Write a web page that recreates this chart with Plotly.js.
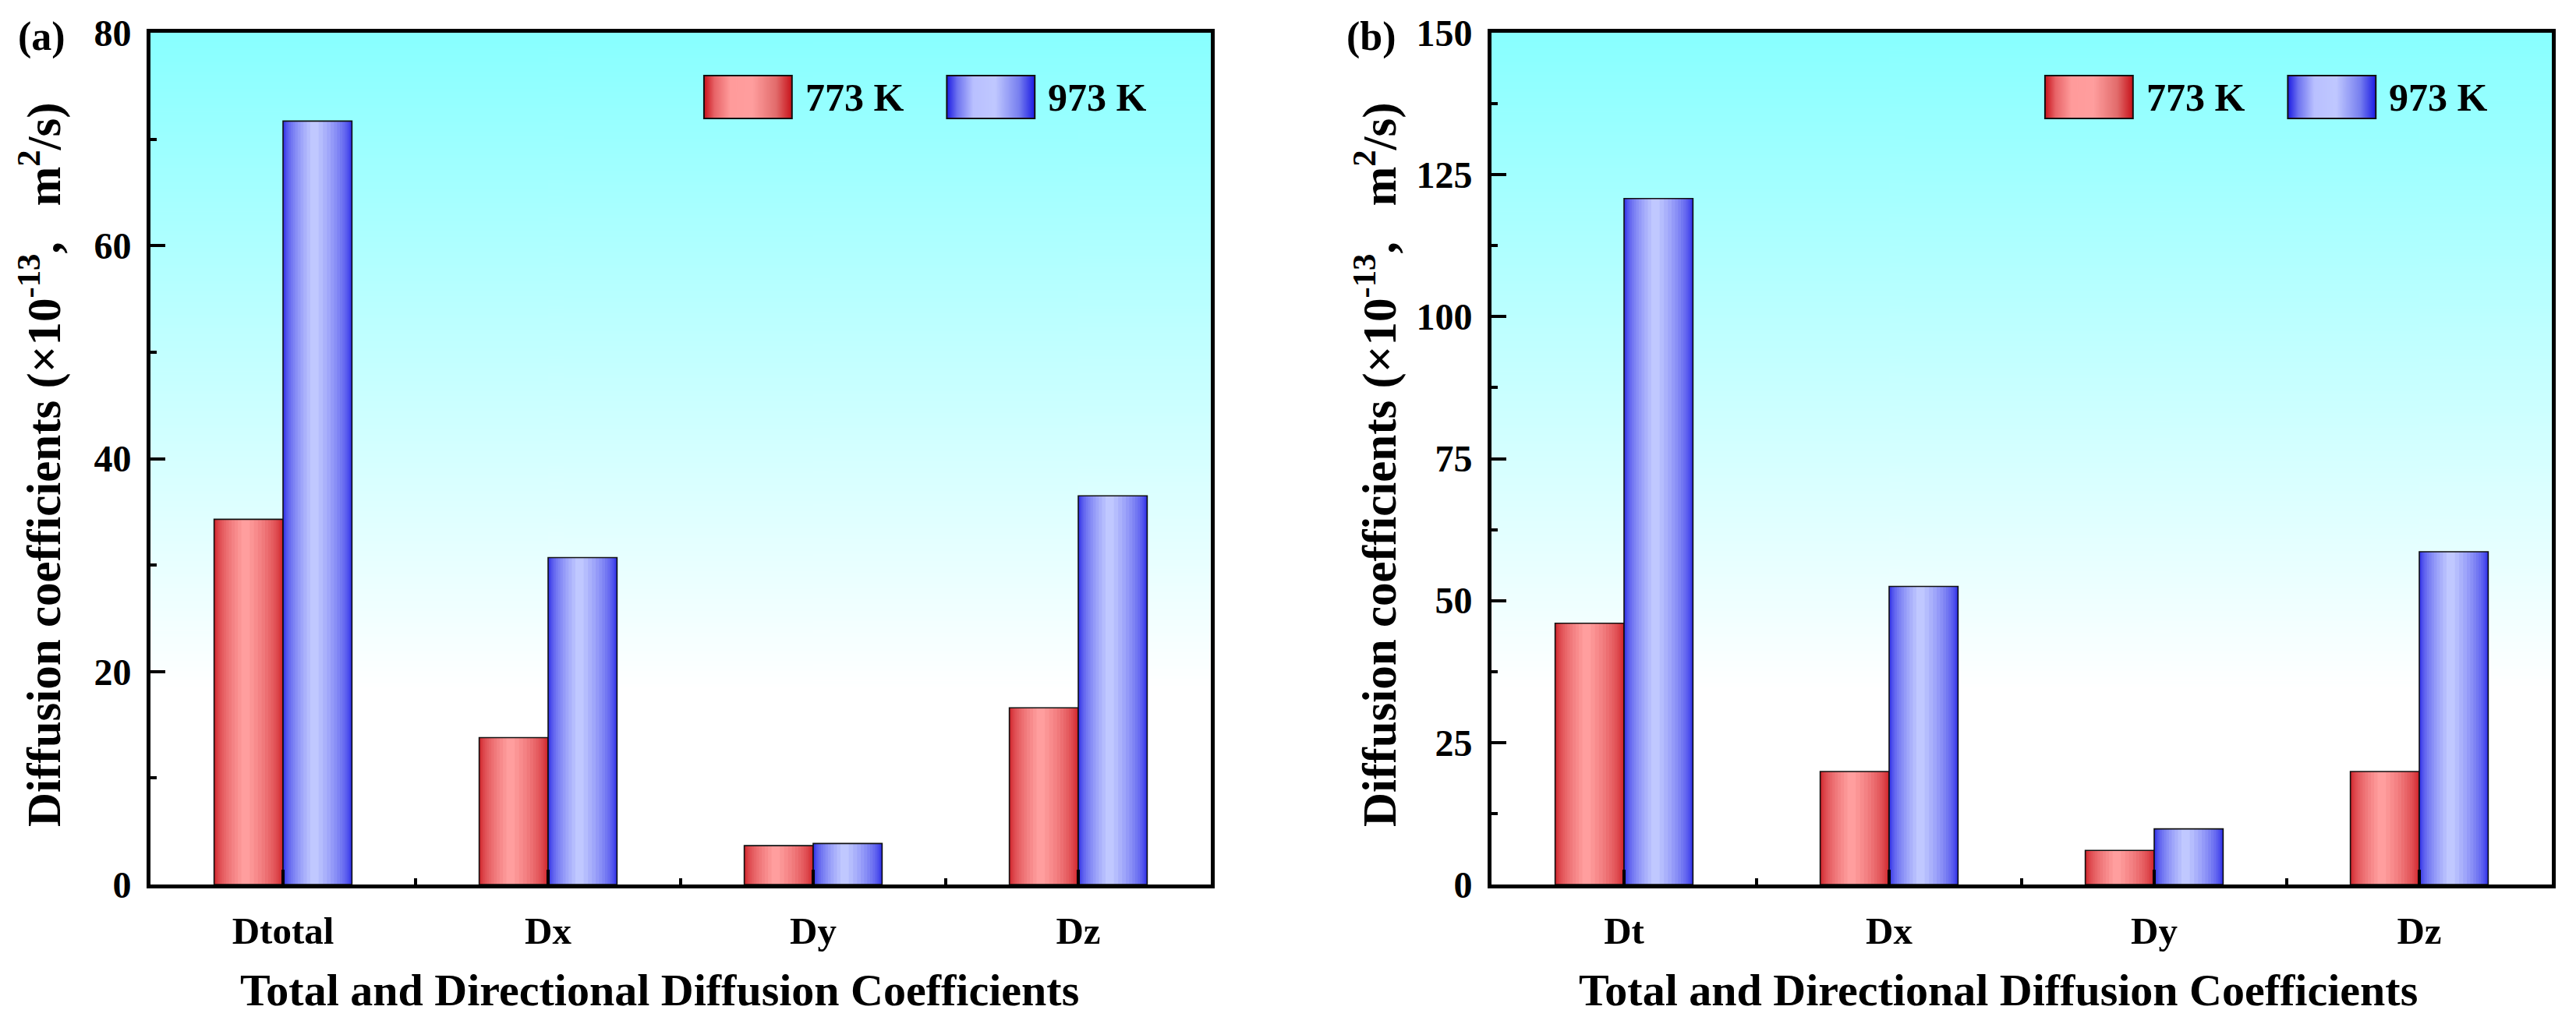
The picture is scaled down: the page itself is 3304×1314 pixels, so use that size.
<!DOCTYPE html>
<html lang="en">
<head>
<meta charset="utf-8">
<title>Diffusion coefficients</title>
<script src="https://cdn.plot.ly/plotly-3.0.1.min.js" charset="utf-8"></script>
<style>
  body{margin:0;background:#fff}
  #plot{width:3304px;height:1314px}
</style>
</head>
<body>
<div id="plot"></div>
<script>
// ---- data ----
const categoriesA = ['Dtotal', 'Dx', 'Dy', 'Dz'];
const categoriesB = ['Dt', 'Dx', 'Dy', 'Dz'];
const seriesNames = ['773 K', '973 K'];
const a773 = [34.3, 13.8, 3.65, 16.6];
const a973 = [71.7, 30.7, 3.85, 36.5];
const b773 = [46.0, 19.9, 6.0, 19.9];
const b973 = [120.8, 52.5, 9.8, 58.6];
const yRangeA = [0, 80];
const yRangeB = [0, 150];

const FONT = 'Liberation Serif, Times New Roman, serif';
const W = 3304, H = 1314;
const PLOT_TOP = 42, PLOT_BOT = 1135;   // pixel rows of the frame
const BAR_W = 0.26;   // width of one bar in category units
const LAYERS = 16;    // steps used for the cylinder shading
const PEAK = 0.45;    // where the highlight sits across a bar

const redShade = {edge: [200, 18, 26], mid: [255, 158, 158]};
const blueShade = {edge: [28, 28, 228], mid: [192, 200, 255]};

// paper coords run over the plot area only, so convert page pixels
const py = px => (PLOT_BOT - px) / (PLOT_BOT - PLOT_TOP);
const pxX = px => px / W;

// build one series as several overlaid bars, narrowing and lightening toward the highlight
function shadedBars(xa, ya, vals, offset, shade) {
  const idx = vals.map((v, i) => i);
  let out = [];
  for (let t = 0; t < LAYERS; t++) {
    let k = Math.pow(t / LAYERS, 2);
    let l = PEAK * k, r = 1 - (1 - PEAK) * k;
    let f = t / (LAYERS - 1);
    let c = shade.edge.map((e, i) => Math.round(e + (shade.mid[i] - e) * f));
    out.push({
      type: 'bar', x: idx, y: vals, xaxis: xa, yaxis: ya,
      offset: offset + l * BAR_W, width: (r - l) * BAR_W,
      marker: {color: 'rgb(' + c.join(',') + ')', line: {width: 0}},
      hoverinfo: 'skip', showlegend: false
    });
  }
  out.push({
    type: 'bar', x: idx, y: vals, xaxis: xa, yaxis: ya,
    offset: offset, width: BAR_W,
    marker: {color: 'rgba(0,0,0,0)', line: {color: '#111', width: 1.6}},
    hoverinfo: 'skip', showlegend: false
  });
  return out;
}

function gradientURL(w, h, stops, horizontal) {
  const cv = document.createElement('canvas');
  cv.width = w; cv.height = h;
  const ctx = cv.getContext('2d');
  const g = horizontal ? ctx.createLinearGradient(0, 0, w, 0) : ctx.createLinearGradient(0, 0, 0, h);
  stops.forEach(s => g.addColorStop(s[0], s[1]));
  ctx.fillStyle = g;
  ctx.fillRect(0, 0, w, h);
  return cv.toDataURL();
}

const bgURL = gradientURL(4, 512, [[0, 'rgb(136,255,255)'], [0.77, 'rgb(255,255,255)'], [1, 'rgb(255,255,255)']], false);
const redURL = gradientURL(256, 4, [[0, 'rgb(200,18,26)'], [0.12, 'rgb(232,100,104)'], [0.3, 'rgb(255,155,155)'], [0.55, 'rgb(255,158,158)'], [0.82, 'rgb(226,108,108)'], [1, 'rgb(200,18,26)']], true);
const blueURL = gradientURL(256, 4, [[0, 'rgb(28,28,228)'], [0.12, 'rgb(110,115,240)'], [0.3, 'rgb(185,192,255)'], [0.55, 'rgb(192,200,255)'], [0.82, 'rgb(120,128,240)'], [1, 'rgb(28,28,228)']], true);

let traces = [].concat(
  shadedBars('x', 'y', a773, -BAR_W, redShade),
  shadedBars('x', 'y', a973, 0, blueShade),
  shadedBars('x2', 'y2', b773, -BAR_W, redShade),
  shadedBars('x2', 'y2', b973, 0, blueShade)
);

function xAxis(domain, cats, anchor) {
  return {
    domain: domain, anchor: anchor, range: [-0.5, cats.length - 0.5],
    tickmode: 'array', tickvals: cats.map((c, i) => i), ticktext: cats,
    ticks: 'inside', ticklen: 19, tickwidth: 4, tickcolor: '#000',
    minor: {tick0: 0.5, dtick: 1, ticks: 'inside', ticklen: 8, tickwidth: 4, tickcolor: '#000'},
    showline: true, linewidth: 5, linecolor: '#000', mirror: true,
    showgrid: false, zeroline: false, fixedrange: true,
    tickfont: {family: FONT, size: 49, color: '#000', weight: 'bold'},
    ticklabelstandoff: 12
  };
}
function yAxis(range, dtick, anchor) {
  return {
    domain: [0, 1], anchor: anchor, range: range,
    tick0: 0, dtick: dtick,
    ticks: 'inside', ticklen: 19, tickwidth: 4, tickcolor: '#000',
    minor: {dtick: dtick / 2, ticks: 'inside', ticklen: 8, tickwidth: 4, tickcolor: '#000'},
    showline: true, linewidth: 5, linecolor: '#000', mirror: true,
    showgrid: false, zeroline: false, fixedrange: true,
    tickfont: {family: FONT, size: 48, color: '#000', weight: 'bold'},
    ticklabelstandoff: 10
  };
}

const xdA = [193 / W, 1553 / W];
const xdB = [1913 / W, 3273 / W];

const yTitle = 'Diffusion coefficients (\u00d710<sup>-13</sup>,\u00a0\u00a0 m<sup>2</sup>/s)';
const xTitle = 'Total and Directional Diffusion Coefficients';

let images = [], shapes = [], annotations = [];
[['x', 'y'], ['x2', 'y2']].forEach(([xa, ya]) => {
  images.push({source: bgURL, xref: xa + ' domain', yref: ya + ' domain', x: 0, y: 1, sizex: 1, sizey: 1,
    sizing: 'stretch', xanchor: 'left', yanchor: 'top', layer: 'below'});
  // legend: swatch + label for each series
  [[redURL, 0.522, seriesNames[0]], [blueURL, 0.751, seriesNames[1]]].forEach(([src, x0, name]) => {
    images.push({source: src, xref: xa + ' domain', yref: ya + ' domain', x: x0, y: 0.9497,
      sizex: 0.083, sizey: 0.0503, sizing: 'stretch', xanchor: 'left', yanchor: 'top', layer: 'above'});
    shapes.push({type: 'rect', xref: xa + ' domain', yref: ya + ' domain', x0: x0, x1: x0 + 0.083,
      y0: 0.8994, y1: 0.9497, line: {color: '#111', width: 2}});
    annotations.push({text: name, xref: xa + ' domain', yref: ya + ' domain', x: x0 + 0.094, y: 0.9245,
      xanchor: 'left', yanchor: 'middle', showarrow: false,
      font: {family: FONT, size: 50, color: '#000', weight: 'bold'}});
  });
});

[['(a)', 21, 52, 846], ['(b)', 1725, 1765, 2563]].forEach(([lab, lx, ytx, xtx]) => {
  annotations.push({text: lab, xref: 'paper', yref: 'paper', x: pxX(lx), y: py(47),
    xanchor: 'left', yanchor: 'middle', showarrow: false,
    font: {family: FONT, size: 52, color: '#000', weight: 'bold'}});
  annotations.push({text: yTitle, xref: 'paper', yref: 'paper', x: pxX(ytx), y: py(596),
    xanchor: 'center', yanchor: 'middle', textangle: -90, showarrow: false,
    font: {family: FONT, size: 61, color: '#000', weight: 'bold'}});
  annotations.push({text: xTitle, xref: 'paper', yref: 'paper', x: pxX(xtx), y: py(1270),
    xanchor: 'center', yanchor: 'middle', showarrow: false,
    font: {family: FONT, size: 58, color: '#000', weight: 'bold'}});
});

let layout = {
  width: W, height: H,
  margin: {l: 0, r: 0, t: PLOT_TOP, b: H - PLOT_BOT},
  paper_bgcolor: '#fff', plot_bgcolor: 'rgba(0,0,0,0)',
  barmode: 'overlay', showlegend: false,
  font: {family: FONT, color: '#000'},
  xaxis: xAxis(xdA, categoriesA, 'y'),
  yaxis: yAxis(yRangeA, 20, 'x'),
  xaxis2: xAxis(xdB, categoriesB, 'y2'),
  yaxis2: yAxis(yRangeB, 25, 'x2'),
  images: images, shapes: shapes, annotations: annotations
};

Plotly.newPlot(document.getElementById('plot'), traces, layout, {staticPlot: true, displayModeBar: false});
</script>
</body>
</html>
